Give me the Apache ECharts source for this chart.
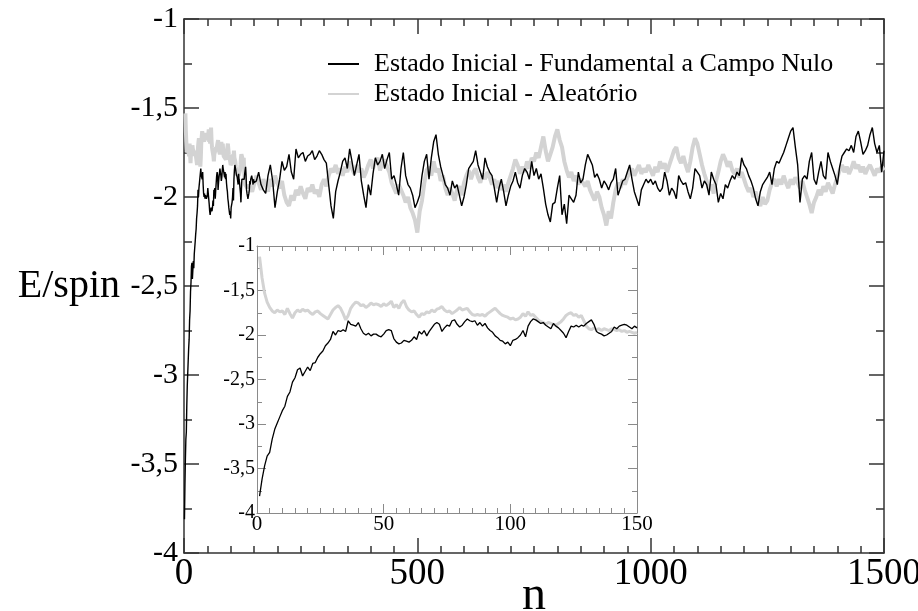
<!DOCTYPE html>
<html><head><meta charset="utf-8">
<script src="https://cdn.jsdelivr.net/npm/echarts@6/dist/echarts.min.js"></script>
<style>html,body{margin:0;padding:0;background:#fff}#c{width:918px;height:611px}</style>
</head><body><div id="c"></div>
<script>
const seriesNames = ['Estado Inicial - Fundamental a Campo Nulo', 'Estado Inicial - Aleatório'];
const xLabelMain = 'n';
const yLabelMain = 'E/spin';

// first 150 sweeps (n = 1..150)
const blackFine = [
-3.81,-3.62,-3.47,-3.36,-3.32,-3.17,-3.06,-2.99,-2.92,-2.85,
-2.80,-2.69,-2.64,-2.53,-2.48,-2.39,-2.37,-2.46,-2.41,-2.36,
-2.40,-2.32,-2.31,-2.25,-2.21,-2.18,-2.12,-2.09,-2.05,-1.96,
-2.00,-1.95,-1.96,-1.94,-1.96,-1.84,-1.88,-1.89,-1.90,-1.86,
-1.93,-1.98,-2.00,-1.98,-2.01,-1.99,-1.99,-2.01,-2.02,-1.99,
-1.95,-1.94,-1.95,-2.04,-2.08,-2.10,-2.09,-2.06,-2.07,-2.08,
-2.06,-2.02,-2.05,-1.96,-1.99,-1.95,-2.01,-1.96,-1.92,-1.88,
-1.86,-1.88,-1.96,-1.92,-1.89,-1.90,-1.84,-1.83,-1.88,-1.91,
-1.89,-1.85,-1.82,-1.84,-1.85,-1.84,-1.89,-1.86,-1.90,-1.87,
-1.92,-1.95,-1.97,-2.01,-2.03,-2.06,-2.07,-2.10,-2.08,-2.12,
-2.06,-2.05,-2.03,-2.00,-1.95,-2.02,-1.90,-1.85,-1.82,-1.83,
-1.85,-1.87,-1.86,-1.89,-1.91,-1.93,-1.87,-1.90,-1.92,-1.95,
-1.98,-2.03,-1.96,-1.90,-1.91,-1.89,-1.91,-1.89,-1.90,-1.87,
-1.85,-1.83,-1.88,-1.96,-1.98,-1.99,-2.01,-2.00,-1.98,-1.96,
-1.91,-1.93,-1.90,-1.89,-1.88,-1.89,-1.91,-1.93,-1.90,-1.92];
const grayFine = [
-1.12,-1.36,-1.53,-1.63,-1.69,-1.73,-1.75,-1.72,-1.74,-1.73,
-1.77,-1.70,-1.76,-1.81,-1.75,-1.72,-1.74,-1.71,-1.73,-1.72,
-1.75,-1.77,-1.74,-1.73,-1.76,-1.78,-1.80,-1.82,-1.77,-1.72,
-1.69,-1.67,-1.70,-1.76,-1.83,-1.78,-1.70,-1.66,-1.63,-1.64,
-1.67,-1.66,-1.69,-1.67,-1.64,-1.66,-1.65,-1.66,-1.68,-1.65,
-1.67,-1.65,-1.62,-1.69,-1.66,-1.70,-1.64,-1.61,-1.68,-1.72,
-1.74,-1.73,-1.77,-1.80,-1.76,-1.77,-1.74,-1.75,-1.72,-1.74,
-1.71,-1.70,-1.68,-1.72,-1.74,-1.73,-1.76,-1.74,-1.72,-1.69,
-1.72,-1.71,-1.70,-1.74,-1.77,-1.78,-1.77,-1.78,-1.77,-1.79,
-1.76,-1.74,-1.72,-1.70,-1.73,-1.76,-1.78,-1.79,-1.80,-1.82,
-1.81,-1.83,-1.82,-1.80,-1.76,-1.79,-1.74,-1.78,-1.77,-1.80,
-1.83,-1.85,-1.86,-1.88,-1.86,-1.87,-1.88,-1.89,-1.87,-1.85,
-1.82,-1.78,-1.76,-1.75,-1.78,-1.77,-1.80,-1.78,-1.84,-1.90,
-1.93,-1.94,-1.92,-1.94,-1.93,-1.95,-1.93,-1.94,-1.95,-1.93,
-1.94,-1.95,-1.94,-1.96,-1.95,-1.97,-1.96,-1.97,-1.98,-1.97];

// n = 155..1500, every 5 sweeps
const blackMain = [
-1.91,-1.86,-1.93,-1.96,-1.98,-1.88,-1.82,-1.91,-2.06,-1.97,
-1.90,-1.80,-1.85,-1.83,-1.76,-1.86,-1.90,-1.73,-1.78,-1.76,
-1.75,-1.80,-1.77,-1.76,-1.74,-1.79,-1.77,-1.74,-1.76,-1.79,
-1.81,-1.93,-2.05,-2.12,-1.97,-1.91,-1.86,-1.80,-1.78,-1.84,
-1.73,-1.80,-1.88,-1.82,-1.76,-1.91,-1.99,-2.06,-1.93,-1.99,
-1.87,-1.78,-1.82,-1.80,-1.76,-1.84,-1.79,-1.75,-1.90,-1.88,
-1.93,-1.99,-1.84,-1.75,-1.88,-1.93,-1.95,-1.99,-2.06,-2.03,
-1.99,-1.88,-1.80,-1.76,-1.90,-1.78,-1.69,-1.65,-1.76,-1.83,
-1.88,-1.93,-1.95,-1.99,-1.91,-1.95,-1.93,-1.99,-2.05,-2.00,
-1.93,-1.84,-1.82,-1.80,-1.74,-1.82,-1.86,-1.90,-1.78,-1.83,
-1.86,-1.88,-1.95,-2.03,-1.95,-1.90,-1.97,-2.05,-1.99,-1.94,
-1.91,-1.86,-1.92,-1.95,-1.88,-1.84,-1.86,-1.90,-1.80,-1.88,
-1.84,-1.90,-1.87,-1.95,-2.04,-2.10,-2.14,-2.04,-2.03,-1.95,
-1.88,-2.10,-2.04,-2.15,-1.99,-2.01,-2.03,-1.99,-1.86,-1.92,
-1.90,-1.82,-1.76,-1.79,-1.82,-1.89,-1.87,-1.90,-1.95,-1.91,
-1.93,-1.96,-1.92,-1.90,-1.84,-1.99,-1.95,-1.91,-1.90,-1.86,
-1.82,-1.90,-1.97,-2.01,-2.05,-1.96,-1.93,-1.90,-1.92,-1.90,
-1.93,-1.91,-1.95,-1.97,-1.95,-1.86,-1.91,-1.99,-1.95,-1.97,
-2.01,-1.88,-1.91,-1.93,-1.92,-1.97,-2.01,-1.95,-1.84,-1.86,
-1.88,-1.95,-1.91,-1.93,-1.99,-1.86,-1.90,-1.93,-2.03,-1.98,
-2.01,-1.93,-1.95,-1.91,-1.88,-1.90,-1.86,-1.88,-1.78,-1.82,
-1.84,-1.88,-1.91,-1.95,-2.01,-2.05,-1.97,-1.93,-1.91,-1.89,
-1.86,-1.93,-1.84,-1.80,-1.81,-1.78,-1.75,-1.71,-1.67,-1.63,
-1.61,-1.72,-1.82,-2.03,-1.90,-1.88,-1.90,-1.80,-1.75,-1.90,
-1.93,-1.86,-1.80,-1.88,-1.90,-1.75,-1.80,-1.84,-1.88,-1.93,
-1.83,-1.77,-1.75,-1.73,-1.74,-1.71,-1.75,-1.66,-1.63,-1.69,
-1.76,-1.74,-1.71,-1.65,-1.61,-1.70,-1.75,-1.71,-1.86,-1.74];
const grayMain = [
-1.88,-1.92,-1.96,-1.90,-1.93,-1.97,-1.90,-1.94,-1.88,-1.92,
-1.95,-1.91,-1.99,-2.03,-2.05,-1.99,-2.02,-1.96,-1.99,-1.94,
-1.98,-2.01,-1.95,-1.97,-1.93,-1.98,-1.96,-2.00,-1.93,-1.90,
-1.94,-1.88,-1.84,-1.86,-1.82,-1.87,-1.84,-1.88,-1.83,-1.86,
-1.80,-1.84,-1.87,-1.82,-1.86,-1.84,-1.89,-1.86,-1.82,-1.79,
-1.84,-1.80,-1.78,-1.85,-1.81,-1.79,-1.83,-1.86,-1.92,-1.95,
-1.98,-1.93,-1.96,-1.99,-2.03,-2.00,-2.06,-2.09,-2.13,-2.20,
-2.08,-2.02,-1.92,-1.85,-1.83,-1.88,-1.80,-1.86,-1.84,-1.91,
-1.88,-1.95,-1.99,-1.95,-1.98,-2.02,-1.96,-1.94,-1.99,-1.92,
-1.88,-1.85,-1.90,-1.86,-1.84,-1.89,-1.92,-1.87,-1.90,-1.86,
-1.89,-1.93,-1.90,-1.95,-1.91,-1.96,-1.93,-1.97,-1.92,-1.88,
-1.84,-1.79,-1.82,-1.87,-1.83,-1.86,-1.80,-1.84,-1.78,-1.80,
-1.75,-1.78,-1.72,-1.66,-1.74,-1.80,-1.76,-1.72,-1.66,-1.62,
-1.68,-1.72,-1.80,-1.85,-1.89,-1.86,-1.91,-1.88,-1.93,-1.90,
-1.92,-1.94,-1.91,-1.96,-1.99,-2.02,-1.97,-2.00,-2.06,-2.10,
-2.16,-2.08,-2.12,-2.03,-1.96,-1.92,-1.95,-1.90,-1.93,-1.89,
-1.86,-1.84,-1.88,-1.85,-1.82,-1.87,-1.84,-1.86,-1.82,-1.85,
-1.88,-1.83,-1.86,-1.80,-1.84,-1.81,-1.86,-1.82,-1.78,-1.74,
-1.72,-1.78,-1.81,-1.77,-1.82,-1.86,-1.80,-1.72,-1.67,-1.70,
-1.76,-1.82,-1.87,-1.91,-1.96,-1.93,-1.98,-1.91,-1.86,-1.80,
-1.76,-1.79,-1.83,-1.80,-1.85,-1.87,-1.84,-1.89,-1.86,-1.90,
-1.94,-1.97,-1.95,-2.00,-1.97,-2.02,-2.05,-2.00,-2.04,-2.02,
-1.96,-1.92,-1.90,-1.94,-1.90,-1.93,-1.88,-1.92,-1.95,-1.90,
-1.93,-1.89,-1.92,-1.95,-1.91,-1.96,-2.00,-2.04,-2.09,-2.03,
-2.00,-1.96,-1.99,-1.94,-1.97,-1.92,-1.95,-1.98,-1.93,-1.89,
-1.85,-1.82,-1.86,-1.83,-1.87,-1.84,-1.80,-1.84,-1.82,-1.86,
-1.83,-1.87,-1.84,-1.82,-1.85,-1.88,-1.84,-1.86,-1.83,-1.85];

const fineStart = 1, mainStart = 155, mainStep = 5;
const grayMainSkip = 2; // the main panel's grey trace starts below the first sweeps

function finePairs(arr, skip) {
  const out = [];
  for (let i = skip || 0; i < arr.length; i++) out.push([fineStart + i, arr[i]]);
  return out;
}
function mainPairs(arr) { return arr.map((v, i) => [mainStart + i * mainStep, v]); }

const FONT = 'Liberation Serif';
const commaFmt = v => String(v).replace('.', ',');
const plainFmt = v => String(v);
const mainAxisColor = '#333';
const insetAxisColor = '#8a8a8a';

function ax(grid, pos, o) {
  return {
    type: 'value', gridIndex: grid, position: pos, min: o.min, max: o.max, interval: o.interval,
    axisLine: { show: true, onZero: false, lineStyle: { color: o.color, width: o.lw } },
    axisTick: { show: true, inside: true, length: o.tl, lineStyle: { color: o.color, width: o.lw } },
    minorTick: { show: true, splitNumber: o.minor, length: o.ml, lineStyle: { color: o.color, width: o.lw } },
    splitLine: { show: false },
    axisLabel: { show: pos === 'bottom' || pos === 'left', fontFamily: FONT, fontSize: o.fs, color: '#000', margin: o.margin, formatter: o.fmt, showMinLabel: true, showMaxLabel: true, hideOverlap: false },
    name: o.name || '', nameLocation: 'middle', nameGap: o.nameGap || 0, nameRotate: 0, nameMoveOverlap: false,
    nameTextStyle: { fontFamily: FONT, fontSize: o.nfs || 12, color: '#000' }
  };
}

const mainX = { min: 0, max: 1500, interval: 500, color: mainAxisColor, lw: 1.5, tl: 15, minor: 10, ml: 7, fs: 37, margin: 3, fmt: plainFmt };
const mainY = { min: -4, max: -1, interval: 0.5, color: mainAxisColor, lw: 1.5, tl: 15, minor: 2, ml: 8, fs: 30, margin: 6, fmt: commaFmt };
const insX = { min: 0, max: 150, interval: 50, color: insetAxisColor, lw: 1, tl: 9, minor: 10, ml: 5, fs: 21, margin: 1, fmt: plainFmt };
const insY = { min: -4, max: -1, interval: 0.5, color: insetAxisColor, lw: 1, tl: 9, minor: 2, ml: 5, fs: 20, margin: 2, fmt: commaFmt };

const chart = echarts.init(document.getElementById('c'), null, { renderer: 'canvas' });
chart.setOption({
  animation: false,
  backgroundColor: '#fff',
  grid: [
    { left: 184, top: 19, width: 700, height: 534, containLabel: false, outerBoundsMode: 'none' },
    { left: 257, top: 246, width: 380, height: 267, containLabel: false, outerBoundsMode: 'none' }
  ],
  xAxis: [
    ax(0, 'bottom', Object.assign({}, mainX, { name: xLabelMain, nameGap: 19, nfs: 48 })),
    ax(0, 'top', mainX),
    ax(1, 'bottom', insX),
    ax(1, 'top', insX)
  ],
  yAxis: [
    ax(0, 'left', Object.assign({}, mainY, { name: yLabelMain, nameGap: 64, nfs: 40 })),
    ax(0, 'right', mainY),
    ax(1, 'left', insY),
    ax(1, 'right', insY)
  ],
  legend: {
    orient: 'vertical', left: 322, top: 46, itemWidth: 31, itemHeight: 14, itemGap: 4,
    data: [seriesNames[0], seriesNames[1]],
    itemStyle: { opacity: 0 },
    textStyle: { fontFamily: FONT, fontSize: 26, color: '#000', padding: [0, 0, 0, 10] },
    selectedMode: false
  },
  series: [
    { name: seriesNames[1], type: 'line', xAxisIndex: 0, yAxisIndex: 0, symbol: 'none', showSymbol: false,
      data: finePairs(grayFine, grayMainSkip).concat(mainPairs(grayMain)),
      lineStyle: { color: '#d3d3d3', width: 4 }, itemStyle: { color: '#d3d3d3' }, z: 2 },
    { name: seriesNames[0], type: 'line', xAxisIndex: 0, yAxisIndex: 0, symbol: 'none', showSymbol: false,
      data: finePairs(blackFine).concat(mainPairs(blackMain)),
      lineStyle: { color: '#000', width: 1.4 }, itemStyle: { color: '#000' }, z: 3 },
    { name: seriesNames[1], type: 'line', xAxisIndex: 2, yAxisIndex: 2, symbol: 'none', showSymbol: false,
      data: finePairs(grayFine), lineStyle: { color: '#d3d3d3', width: 3 }, itemStyle: { color: '#d3d3d3' }, z: 2 },
    { name: seriesNames[0], type: 'line', xAxisIndex: 2, yAxisIndex: 2, symbol: 'none', showSymbol: false,
      data: finePairs(blackFine), lineStyle: { color: '#000', width: 1.3 }, itemStyle: { color: '#000' }, z: 3 }
  ]
});
</script></body></html>
